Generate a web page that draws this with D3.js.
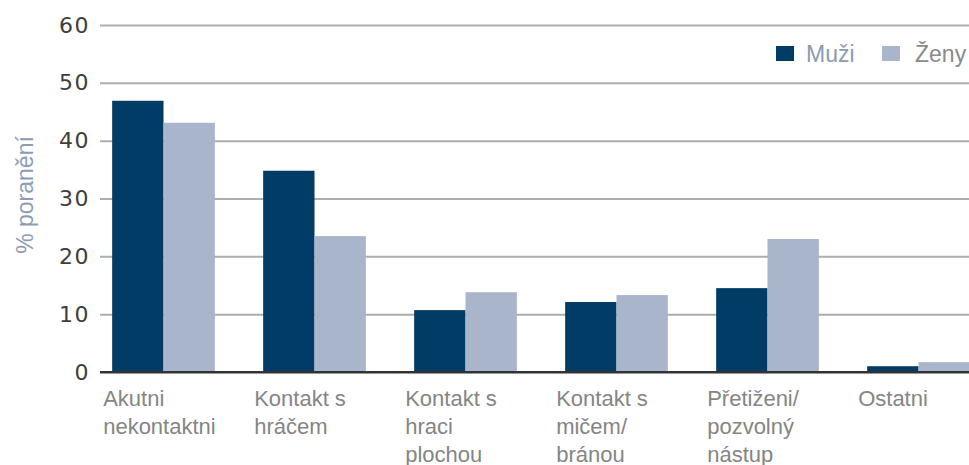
<!DOCTYPE html>
<html>
<head>
<meta charset="utf-8">
<script src="https://cdn.jsdelivr.net/npm/d3@7"></script>
<style>
  body { margin: 0; background: #fff; }
  svg { display: block; font-family: "Liberation Sans", Arial, sans-serif; }
</style>
</head>
<body>
<svg id="chart" width="969" height="465"></svg>
<script>
// data
const categories = [
  ['Akutni', 'nekontaktni'],
  ['Kontakt s', 'hráčem'],
  ['Kontakt s', 'hraci', 'plochou'],
  ['Kontakt s', 'mičem/', 'bránou'],
  ['Přetiženi/', 'pozvolný', 'nástup'],
  ['Ostatni']
];
const series = ['Muži', 'Ženy'];
const muzi = [46.9, 34.8, 10.7, 12.1, 14.5, 1.0];
const zeny = [43.1, 23.5, 13.8, 13.3, 23.0, 1.7];
const yTicks = [0, 10, 20, 30, 40, 50, 60];

const COLORS = ['#013c66', '#a8b5cb'];
const W = 969;
const H = 465;

const $svg = d3.select('#chart');

const x = d3.scaleBand()
  .domain(d3.range(categories.length))
  .range([88, 994])
  .paddingInner(0.32)
  .paddingOuter(0.16);

const xs = d3.scaleBand()
  .domain(series)
  .range([0, x.bandwidth()]);

const y = d3.scaleLinear().domain([0, 60]).range([372, 25]);

// gridlines + tick labels
const yAxis = d3.axisLeft(y)
  .tickValues(yTicks)
  .tickSize(-(W - 100))
  .tickPadding(10);

const $y = $svg.append('g')
  .attr('transform', 'translate(100,0)')
  .call(yAxis);
$y.select('.domain').remove();
$y.selectAll('.tick line')
  .attr('stroke', d => d === 0 ? '#333' : '#adadad')
  .attr('stroke-width', 2);
$y.selectAll('.tick text')
  .attr('fill', '#3e3e3e')
  .style('font-family', '"DejaVu Sans", sans-serif')
  .style('font-size', '22px')
  .style('letter-spacing', '1.5px');

// bars
const data = categories.map((c, i) => ({ i, values: [muzi[i], zeny[i]] }));

const $groups = $svg.append('g')
  .selectAll('g')
  .data(data)
  .join('g')
  .attr('transform', d => `translate(${x(d.i)},0)`);

$groups.selectAll('rect')
  .data(d => d.values.map((v, k) => ({ key: series[k], v, k })))
  .join('rect')
  .attr('x', d => xs(d.key))
  .attr('width', xs.bandwidth())
  .attr('y', d => y(d.v))
  .attr('height', d => y(0) - y(d.v) - 1)
  .attr('fill', d => COLORS[d.k]);

// redraw zero line on top
$svg.append('line')
  .attr('x1', 100).attr('x2', W)
  .attr('y1', y(0)).attr('y2', y(0))
  .attr('stroke', '#333').attr('stroke-width', 2);

// category labels
const $labels = $svg.append('g')
  .selectAll('text')
  .data(categories)
  .join('text')
  .attr('x', (d, i) => x(i) - 9)
  .attr('y', 406)
  .attr('fill', '#858585')
  .style('font-size', '22px');

$labels.selectAll('tspan')
  .data(d => d)
  .join('tspan')
  .attr('x', function () { return d3.select(this.parentNode).attr('x'); })
  .attr('dy', (d, k) => k === 0 ? 0 : 28)
  .text(d => d);

// y title
$svg.append('text')
  .attr('transform', 'translate(33,195) rotate(-90)')
  .attr('text-anchor', 'middle')
  .attr('fill', '#8d9cb4')
  .style('font-size', '23px')
  .text('% poranění');

// legend
const legendX = [776, 882];
const legendText = ['#8a9bb3', '#8a8a8a'];
const $legend = $svg.append('g')
  .selectAll('g')
  .data(series)
  .join('g')
  .attr('transform', (d, i) => `translate(${legendX[i]},46)`);
$legend.append('rect')
  .attr('width', 18).attr('height', 15)
  .attr('fill', (d, i) => COLORS[i]);
$legend.append('text')
  .attr('x', (d, i) => i === 0 ? 30 : 33)
  .attr('y', 16)
  .attr('fill', (d, i) => legendText[i])
  .style('font-size', '23px')
  .text(d => d);
</script>
</body>
</html>
